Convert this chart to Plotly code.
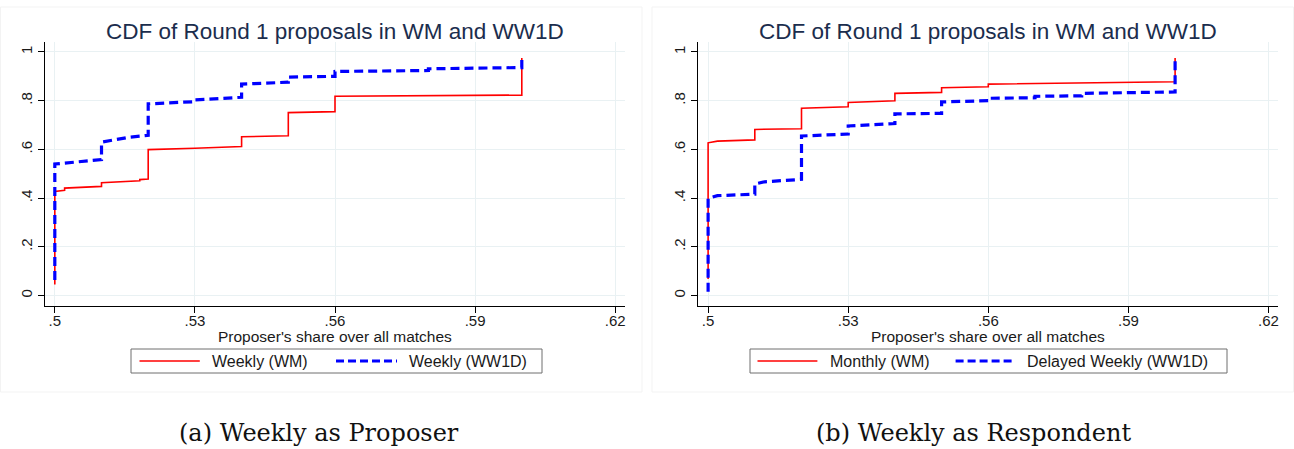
import plotly.graph_objects as go

W, H = 1294, 449

# ---------------- data ----------------
panel_titles = ["CDF of Round 1 proposals in WM and WW1D", "CDF of Round 1 proposals in WM and WW1D"]
x_axis_title = "Proposer's share over all matches"
captions = ["(a) Weekly as Proposer", "(b) Weekly as Respondent"]
legend_names_a = ["Weekly (WM)", "Weekly (WW1D)"]
legend_names_b = ["Monthly (WM)", "Delayed Weekly (WW1D)"]

x_tickvals = [0.5, 0.53, 0.56, 0.59, 0.62]
x_ticktext = [".5", ".53", ".56", ".59", ".62"]
y_tickvals = [0, 0.2, 0.4, 0.6, 0.8, 1.0]
y_ticktext = ["0", ".2", ".4", ".6", ".8", "1"]

# Panel (a): Weekly as Proposer
a_wm_x = [0.5, 0.5, 0.5021, 0.5021, 0.51, 0.51, 0.5182, 0.5182, 0.52, 0.52, 0.53, 0.54, 0.54,
          0.55, 0.55, 0.56, 0.56, 0.60, 0.60]
a_wm_y = [0.045, 0.427, 0.432, 0.441, 0.448, 0.463, 0.471, 0.476, 0.478, 0.599, 0.605, 0.612, 0.652,
          0.656, 0.751, 0.755, 0.818, 0.823, 0.975]
a_ww_x = [0.5, 0.5, 0.51, 0.51, 0.5159, 0.52, 0.52, 0.53, 0.53, 0.54, 0.54, 0.55, 0.55,
          0.56, 0.56, 0.58, 0.58, 0.60, 0.60]
a_ww_y = [0.064, 0.54, 0.558, 0.63, 0.65, 0.658, 0.787, 0.796, 0.803, 0.814, 0.868, 0.876, 0.897,
          0.90, 0.92, 0.924, 0.931, 0.936, 0.98]

# Panel (b): Weekly as Respondent
b_wm_x = [0.5, 0.5, 0.502, 0.51, 0.51, 0.52, 0.52, 0.53, 0.53, 0.54, 0.54, 0.55, 0.55,
          0.56, 0.56, 0.60, 0.60]
b_wm_y = [0.068, 0.627, 0.634, 0.639, 0.682, 0.685, 0.769, 0.775, 0.793, 0.80, 0.83, 0.834, 0.853,
          0.857, 0.868, 0.878, 0.975]
b_ww_x = [0.5, 0.5, 0.502, 0.51, 0.51, 0.5121, 0.52, 0.52, 0.53, 0.53, 0.54, 0.54, 0.55, 0.55,
          0.56, 0.56, 0.57, 0.57, 0.58, 0.58, 0.60, 0.60]
b_ww_y = [0.016, 0.399, 0.41, 0.416, 0.458, 0.467, 0.477, 0.655, 0.663, 0.696, 0.706, 0.746, 0.748, 0.795,
          0.80, 0.81, 0.812, 0.818, 0.82, 0.830, 0.836, 0.975]

# ---------------- styling ----------------
RED = "#ff0000"
BLUE = "#0000ff"
GRID = "#e9f1f3"
SANS = "Liberation Sans, Arial, sans-serif"
SERIF = "DejaVu Serif, serif"
TITLE_COL = "#1b2d4d"

def px(x):
    return x / W

def py(y):
    return 1 - y / H

# plot area pixel geometry
top_px, bot_px = 42, 306
panels = [
    dict(left=45, right=625),
    dict(left=698.3, right=1278.3),
]

fig = go.Figure()

series = [
    (a_wm_x, a_wm_y, "x", "y", RED, 1.6, "solid"),
    (a_ww_x, a_ww_y, "x", "y", BLUE, 3.2, "9px,5px"),
    (b_wm_x, b_wm_y, "x2", "y2", RED, 1.6, "solid"),
    (b_ww_x, b_ww_y, "x2", "y2", BLUE, 3.2, "9px,5px"),
]
for xs, ys, xa, ya, col, w, dash in series:
    fig.add_trace(go.Scatter(x=xs, y=ys, xaxis=xa, yaxis=ya, mode="lines",
                             line=dict(color=col, width=w, dash=dash),
                             showlegend=False, hoverinfo="skip"))

xrange = [0.4979, 0.6221]
yrange = [-0.043, 1.041]
common_x = dict(range=xrange, tickvals=x_tickvals, ticktext=x_ticktext, showgrid=True,
                gridcolor=GRID, gridwidth=1, zeroline=False, showline=True, linecolor="#000000",
                linewidth=1, ticks="outside", ticklen=6, tickcolor="#000000",
                ticklabelstandoff=-5,
                tickfont=dict(family=SANS, size=15, color="#1a1a1a"), fixedrange=True)
common_y = dict(range=yrange, tickvals=y_tickvals, ticktext=y_ticktext, showgrid=True,
                gridcolor=GRID, gridwidth=1, zeroline=False, showline=True, linecolor="#000000",
                linewidth=1, ticks="outside", ticklen=6, tickcolor="#000000", tickangle=-90,
                tickfont=dict(family=SANS, size=15, color="#1a1a1a"), fixedrange=True)

ydom = [py(bot_px), py(top_px)]
fig.update_layout(
    width=W, height=H,
    margin=dict(l=0, r=0, t=0, b=0),
    paper_bgcolor="white", plot_bgcolor="white",
    xaxis=dict(domain=[px(panels[0]["left"]), px(panels[0]["right"])], anchor="y", **common_x),
    yaxis=dict(domain=ydom, anchor="x", **common_y),
    xaxis2=dict(domain=[px(panels[1]["left"]), px(panels[1]["right"])], anchor="y2", **common_x),
    yaxis2=dict(domain=ydom, anchor="x2", **common_y),
)

shapes = []
annotations = []

# faint panel frames
for x0, x1 in [(0.5, 642), (652, 1293.5)]:
    shapes.append(dict(type="rect", xref="paper", yref="paper", x0=px(x0), x1=px(x1),
                       y0=py(392), y1=py(7), line=dict(color="#f3f3f3", width=1),
                       fillcolor="rgba(0,0,0,0)", layer="below"))

legend_specs = [
    dict(box=(131, 542), names=legend_names_a, items=[(139.5, 199.8, 210), (336, 397, 407.4)]),
    dict(box=(750, 1227), names=legend_names_b, items=[(757.5, 817.4, 827.6), (955.6, 1015, 1025.4)]),
]
leg_top, leg_bot = 349, 373
leg_mid = (leg_top + leg_bot) / 2

for i, p in enumerate(panels):
    cx = (p["left"] + p["right"]) / 2
    annotations.append(dict(text=panel_titles[i], x=px(cx), y=py(32), xref="paper", yref="paper",
                            showarrow=False, xanchor="center", yanchor="middle",
                            font=dict(family=SANS, size=22.5, color=TITLE_COL)))
    annotations.append(dict(text=x_axis_title, x=px(cx), y=py(336.5), xref="paper", yref="paper",
                            showarrow=False, xanchor="center", yanchor="middle",
                            font=dict(family=SANS, size=15.5, color="#1a1a1a")))
    spec = legend_specs[i]
    shapes.append(dict(type="rect", xref="paper", yref="paper", x0=px(spec["box"][0]),
                       x1=px(spec["box"][1]), y0=py(leg_bot), y1=py(leg_top),
                       line=dict(color="#6e6e6e", width=1), fillcolor="white"))
    styles = [dict(color=RED, width=1.6, dash="solid"), dict(color=BLUE, width=3.2, dash="8px,4px")]
    for (lx0, lx1, tx), name, st in zip(spec["items"], spec["names"], styles):
        shapes.append(dict(type="line", xref="paper", yref="paper", x0=px(lx0), x1=px(lx1),
                           y0=py(leg_mid), y1=py(leg_mid), line=st))
        annotations.append(dict(text=name, x=px(tx), y=py(leg_mid), xref="paper", yref="paper",
                                showarrow=False, xanchor="left", yanchor="middle",
                                font=dict(family=SANS, size=16, color="#1a1a1a")))

caption_x = [319, 973]
for cx, cap in zip(caption_x, captions):
    annotations.append(dict(text=cap, x=px(cx), y=py(433), xref="paper", yref="paper",
                            showarrow=False, xanchor="center", yanchor="middle",
                            font=dict(family=SERIF, size=24, color="#111111")))

fig.update_layout(shapes=shapes, annotations=annotations)

fig.write_html("out.html", config={"displayModeBar": False})
